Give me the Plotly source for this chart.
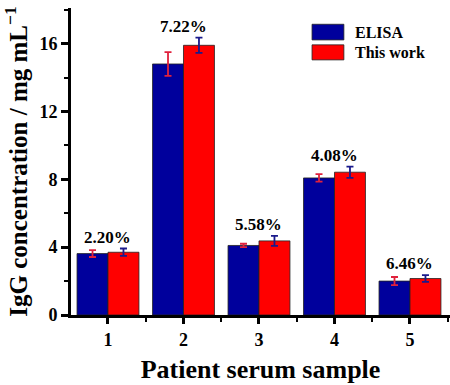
import plotly.graph_objects as go

samples = [1, 2, 3, 4, 5]
series_names = ["ELISA", "This work"]
elisa = [3.62, 14.8, 4.10, 8.08, 2.00]
elisa_err = [0.20, 0.70, 0.10, 0.22, 0.24]
thiswork = [3.70, 15.90, 4.37, 8.42, 2.15]
thiswork_err = [0.22, 0.45, 0.30, 0.33, 0.20]
rsd_labels = ["2.20%", "7.22%", "5.58%", "4.08%", "6.46%"]
y_ticks = [0, 4, 8, 12, 16]

FONT = "Liberation Serif"
bar_colors = ["#00009C", "#FF0000"]
err_colors = ["#E0213C", "#1A1A8C"]

fig = go.Figure()
for name, vals, errs, col, ecol in zip(series_names, [elisa, thiswork], [elisa_err, thiswork_err], bar_colors, err_colors):
    fig.add_trace(go.Bar(
        x=samples, y=vals, name=name,
        marker=dict(color=col, line=dict(color="#222222", width=0.8)),
        error_y=dict(type="data", array=errs, color=ecol, thickness=1.8, width=3.5),
        showlegend=False,
    ))

# RSD labels above each group
for s, lab, a, ea, b, eb in zip(samples, rsd_labels, elisa, elisa_err, thiswork, thiswork_err):
    top = max(a + ea, b + eb)
    fig.add_annotation(x=s, y=top, text=f"<b>{lab}</b>", showarrow=False,
                       yanchor="bottom", yshift=0,
                       font=dict(family=FONT, size=17, color="black"))

# custom legend
leg_x0, leg_x1 = 0.636, 0.720
leg_rows = [(0.947, 0.896), (0.880, 0.831)]
for name, col, (y1, y0) in zip(series_names, bar_colors, leg_rows):
    fig.add_shape(type="rect", xref="paper", yref="paper", x0=leg_x0, x1=leg_x1, y0=y0, y1=y1,
                  fillcolor=col, line=dict(color="#222222", width=0.8))
    fig.add_annotation(xref="paper", yref="paper", x=0.744, y=(y0 + y1) / 2, text=f"<b>{name}</b>",
                       showarrow=False, xanchor="left", yanchor="middle",
                       font=dict(family=FONT, size=16, color="black"))

fig.update_layout(
    width=450, height=385,
    margin=dict(l=71, r=0, t=8, b=70),
    paper_bgcolor="white", plot_bgcolor="white",
    barmode="group", bargap=0.18, bargroupgap=0,
    font=dict(family=FONT, color="black"),
)
fig.update_xaxes(
    range=[0.51, 5.53], tickvals=samples, ticktext=[f"<b>{s}</b>" for s in samples],
    tickfont=dict(family=FONT, size=18, color="black"),
    showline=True, linecolor="black", linewidth=3,
    ticks="outside", ticklen=6, tickwidth=2.5, tickcolor="black",
    minor=dict(tick0=0.5, dtick=1, ticks="outside", ticklen=4, tickwidth=2, tickcolor="black"),
    showgrid=False, zeroline=False,
    title=dict(text="<b>Patient serum sample</b>", font=dict(family=FONT, size=26, color="black"), standoff=12),
)
fig.update_yaxes(
    range=[0, 18.1], tickvals=y_ticks, ticktext=[f"<b>{t}</b>" for t in y_ticks],
    tickfont=dict(family=FONT, size=18, color="black"),
    showline=True, linecolor="black", linewidth=3,
    ticks="outside", ticklen=7, tickwidth=2.5, tickcolor="black",
    minor=dict(tick0=0, dtick=2, ticks="outside", ticklen=4, tickwidth=2, tickcolor="black"),
    showgrid=False, zeroline=False,
    title=dict(text="<b>IgG concentration / mg mL<sup>−1</sup></b>", font=dict(family=FONT, size=25, color="black"), standoff=9),
)

fig.write_html("out.html", config={"displayModeBar": False},
               post_script="document.body.style.margin='0px';document.body.style.overflow='hidden';")
